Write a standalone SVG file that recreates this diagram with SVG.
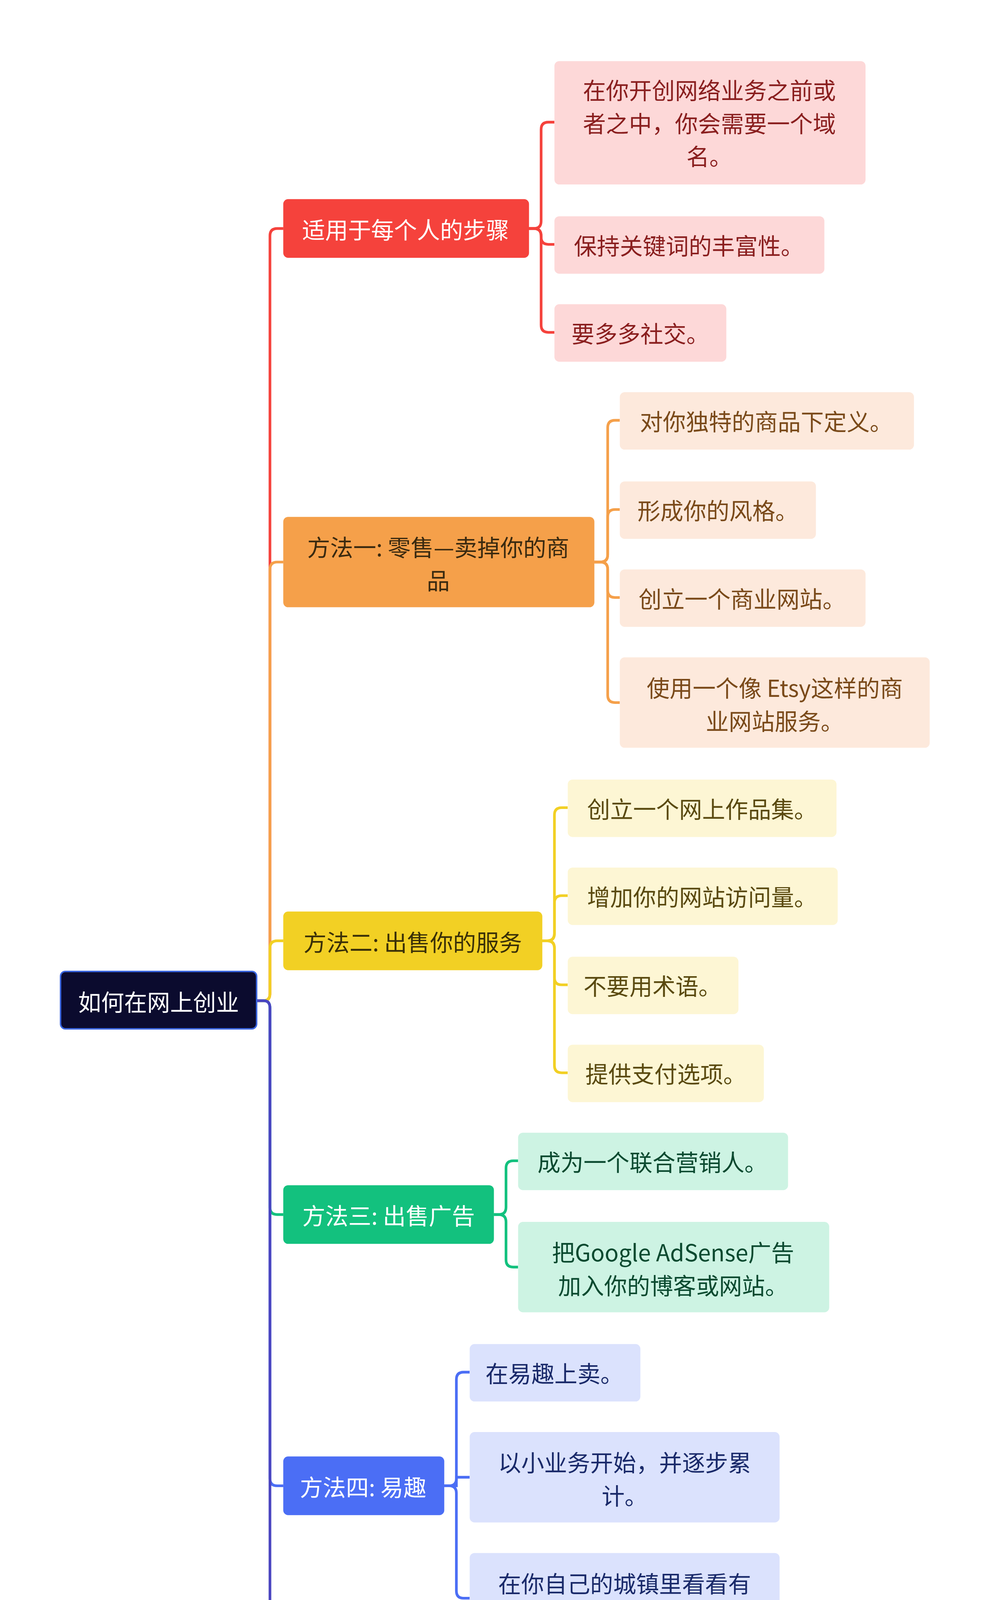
<svg xmlns="http://www.w3.org/2000/svg" width="2560" height="4904" viewBox="0 0 2560 4904">
<style>
text{font-family:"Noto Sans CJK SC","Noto Sans",sans-serif;font-size:19px;text-anchor:middle;dominant-baseline:central}
.c path{fill:none;stroke-width:2.2}
.w{fill:#fff}
</style>
<rect width="2560" height="4904" fill="#fff"/>
<g transform="scale(3.099,3.128)">
<g class="c" id="connectors">
<path stroke="#f5423c" d="M212 819H218Q223 819 223 813V193Q223 187 229 187H234"/>
<path stroke="#f5a04a" d="M212 819H218Q223 819 223 813V466Q223 460 229 460H234"/>
<path stroke="#f2d024" d="M212 819H218Q223 819 223 813V776Q223 770 229 770H234"/>
<path stroke="#13c17e" d="M212 819H218Q223 819 223 825V988Q223 994 229 994H234"/>
<path stroke="#4b6ef5" d="M212 819H218Q223 819 223 825V1210Q223 1216 229 1216H234"/>
<path stroke="#4a45c0" d="M212 819H218Q223 819 223 825V1445Q223 1451 229 1451H234"/>
<g stroke="#f5423c">
<path d="M437 187H441Q447 187 447 181V106Q447 100 453 100H458"/>
<path d="M437 187H441Q447 187 447 193V194Q447 200 453 200H458"/>
<path d="M437 187H441Q447 187 447 193V266Q447 272 453 272H458"/>
</g>
<g stroke="#f5a04a">
<path d="M491 460H496Q502 460 502 454V350Q502 344 508 344H512"/>
<path d="M491 460H496Q502 460 502 454V423Q502 417 508 417H512"/>
<path d="M491 460H496Q502 460 502 466V483Q502 489 508 489H512"/>
<path d="M491 460H496Q502 460 502 466V569Q502 575 508 575H512"/>
</g>
<g stroke="#f2d024">
<path d="M448 770H452Q458 770 458 764V667Q458 661 464 661H469"/>
<path d="M448 770H452Q458 770 458 764V739Q458 733 464 733H469"/>
<path d="M448 770H452Q458 770 458 776V800Q458 806 464 806H469"/>
<path d="M448 770H452Q458 770 458 776V872Q458 878 464 878H469"/>
</g>
<g stroke="#13c17e">
<path d="M408 994H412Q418 994 418 988V956Q418 950 424 950H428"/>
<path d="M408 994H412Q418 994 418 1000V1031Q418 1037 424 1037H428"/>
</g>
<g stroke="#4b6ef5">
<path d="M367 1216H371Q377 1216 377 1210V1129Q377 1123 383 1123H388"/>
<path d="M367 1216H377V1209H388"/>
<path d="M367 1216H371Q377 1216 377 1222V1302Q377 1308 383 1308H388"/>
</g>
<g stroke="#4a45c0">
<path d="M336 1451H340Q346 1451 346 1445V1413Q346 1407 352 1407H357"/>
<path d="M336 1451H340Q346 1451 346 1457V1486Q346 1492 352 1492H357"/>
</g>
</g>

<g id="root"><rect x="50" y="795" width="162" height="47" rx="4" fill="#0b0b2e" stroke="#3a66e0" stroke-width="1.2"/><text x="131" y="819" class="w">如何在网上创业</text></g>

<g id="b1"><rect x="234" y="163" width="203" height="48" rx="4" fill="#f5423c"/><text x="335" y="187" class="w">适用于每个人的步骤</text></g>
<g id="b2"><rect x="234" y="423" width="257" height="74" rx="4" fill="#f5a04a"/><text x="362" y="447" fill="#3a2a10">方法一: 零售—卖掉你的商</text><text x="362" y="474" fill="#3a2a10">品</text></g>
<g id="b3"><rect x="234" y="746" width="214" height="48" rx="4" fill="#f2d024"/><text x="341" y="770" fill="#3a3008">方法二: 出售你的服务</text></g>
<g id="b4"><rect x="234" y="970" width="174" height="48" rx="4" fill="#13c17e"/><text x="321" y="994" class="w">方法三: 出售广告</text></g>
<g id="b5"><rect x="234" y="1192" width="133" height="48" rx="4" fill="#4b6ef5"/><text x="300" y="1216" class="w">方法四: 易趣</text></g>
<g id="b6"><rect x="234" y="1428" width="102" height="46" rx="4" fill="#4a45c0"/><text x="285" y="1451" class="w">其他方面</text></g>

<g fill="#fdd8d8">
<g id="l1a"><rect x="458" y="50" width="257" height="101" rx="4"/><text x="586" y="73" fill="#8a1f1f">在你开创网络业务之前或</text><text x="586" y="100" fill="#8a1f1f">者之中，你会需要一个域</text><text x="586" y="127" fill="#8a1f1f">名。</text></g>
<g id="l1b"><rect x="458" y="177" width="223" height="47" rx="4"/><text x="569" y="200" fill="#8a1f1f">保持关键词的丰富性。</text></g>
<g id="l1c"><rect x="458" y="249" width="142" height="47" rx="4"/><text x="529" y="272" fill="#8a1f1f">要多多社交。</text></g>
</g>
<g fill="#fde9dc">
<g id="l2a"><rect x="512" y="321" width="243" height="47" rx="4"/><text x="633" y="344" fill="#7a4a1a">对你独特的商品下定义。</text></g>
<g id="l2b"><rect x="512" y="394" width="162" height="47" rx="4"/><text x="593" y="417" fill="#7a4a1a">形成你的风格。</text></g>
<g id="l2c"><rect x="512" y="466" width="203" height="47" rx="4"/><text x="613" y="489" fill="#7a4a1a">创立一个商业网站。</text></g>
<g id="l2d"><rect x="512" y="538" width="256" height="74" rx="4"/><text x="640" y="562" fill="#7a4a1a">使用一个像 Etsy这样的商</text><text x="640" y="589" fill="#7a4a1a">业网站服务。</text></g>
</g>
<g fill="#fdf6d4">
<g id="l3a"><rect x="469" y="638" width="222" height="47" rx="4"/><text x="580" y="661" fill="#5a4a10">创立一个网上作品集。</text></g>
<g id="l3b"><rect x="469" y="710" width="223" height="47" rx="4"/><text x="580" y="733" fill="#5a4a10">增加你的网站访问量。</text></g>
<g id="l3c"><rect x="469" y="783" width="141" height="47" rx="4"/><text x="539" y="806" fill="#5a4a10">不要用术语。</text></g>
<g id="l3d"><rect x="469" y="855" width="162" height="47" rx="4"/><text x="550" y="878" fill="#5a4a10">提供支付选项。</text></g>
</g>
<g fill="#cdf3e3">
<g id="l4a"><rect x="428" y="927" width="223" height="47" rx="4"/><text x="539" y="950" fill="#0b4a30">成为一个联合营销人。</text></g>
<g id="l4b"><rect x="428" y="1000" width="257" height="74" rx="4"/><text x="556" y="1024" fill="#0b4a30">把Google AdSense广告</text><text x="556" y="1051" fill="#0b4a30">加入你的博客或网站。</text></g>
</g>
<g fill="#dbe2fd">
<g id="l5a"><rect x="388" y="1100" width="141" height="47" rx="4"/><text x="458" y="1123" fill="#1a2a6a">在易趣上卖。</text></g>
<g id="l5b"><rect x="388" y="1172" width="256" height="74" rx="4"/><text x="516" y="1196" fill="#1a2a6a">以小业务开始，并逐步累</text><text x="516" y="1223" fill="#1a2a6a">计。</text></g>
<g id="l5c"><rect x="388" y="1271" width="256" height="74" rx="4"/><text x="516" y="1295" fill="#1a2a6a">在你自己的城镇里看看有</text><text x="516" y="1322" fill="#1a2a6a">没有交易机会。</text></g>
</g>
<g fill="#dedcf0">
<g id="l6a"><rect x="357" y="1370" width="256" height="74" rx="4"/><text x="485" y="1394" fill="#222">找一位导师，一位拥有可</text><text x="485" y="1421" fill="#222">以学习的成功系统的人。</text></g>
<g id="l6b"><rect x="357" y="1469" width="242" height="47" rx="4"/><text x="478" y="1492" fill="#222">找到一种直接销售模式。</text></g>
</g>
</g>
</svg>
